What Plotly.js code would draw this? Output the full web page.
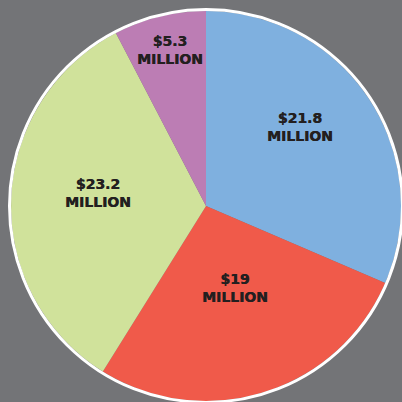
<!DOCTYPE html>
<html>
<head>
<meta charset="utf-8">
<script src="https://cdn.plot.ly/plotly-3.0.1.min.js"></script>
<style>
html,body{margin:0;padding:0;overflow:hidden;background:#737477;}
#chart{width:410px;height:410px;}
</style>
</head>
<body>
<div id="chart"></div>
<script>
var categories = ["A", "B", "C", "D"];
var values = [21.8, 19, 23.2, 5.3];
var labelText = ["$21.8", "$19", "$23.2", "$5.3"];
var colors = ["#7FB0DF", "#F05A4A", "#D0E29B", "#BC7DB4"];

// label placement style (angle offset from slice middle, radius as fraction)
var labelAngleOffset = [-6.6, -1.8, 4.9, 0.8];
var labelRadiusFrac = [0.63, 0.448, 0.558, 0.821];

var W = 410, cx = 206, cy = 206, R = 195, ringR = 196.5;

var trace = {
  type: "pie",
  labels: categories,
  values: values,
  textinfo: "none",
  sort: false,
  direction: "clockwise",
  rotation: 0,
  marker: {colors: colors, line: {width: 0}},
  domain: {x: [(cx - R) / W, (cx + R) / W], y: [1 - (cy + R) / W, 1 - (cy - R) / W]},
  showlegend: false,
  hoverinfo: "none"
};

var total = values.reduce(function(a, b){ return a + b; }, 0);
var annotations = [];
var cum = 0;
values.forEach(function(v, i){
  var mid = (cum + v / 2) / total * 360 + labelAngleOffset[i];
  cum += v;
  var a = mid * Math.PI / 180;
  var r = labelRadiusFrac[i] * R;
  var px = cx + r * Math.sin(a);
  var py = cy - r * Math.cos(a);
  annotations.push({
    xref: "paper", yref: "paper",
    x: px / W, y: 1 - py / W,
    xanchor: "center", yanchor: "middle",
    showarrow: false,
    text: "<b>" + labelText[i] + "<br>MILLION</b>",
    font: {family: "DejaVu Sans", size: 14, color: "#231F20", shadow: "0.4px 0 0 #231F20"}
  });
});

var layout = {
  width: W, height: W,
  margin: {l: 0, r: 0, t: 0, b: 0, pad: 0},
  paper_bgcolor: "#737477",
  plot_bgcolor: "#737477",
  showlegend: false,
  annotations: annotations,
  shapes: [{
    type: "circle", xref: "paper", yref: "paper",
    x0: (cx - ringR) / W, x1: (cx + ringR) / W,
    y0: 1 - (cy + ringR) / W, y1: 1 - (cy - ringR) / W,
    line: {color: "#FFFFFF", width: 3},
    fillcolor: "rgba(0,0,0,0)", layer: "above"
  }]
};

Plotly.newPlot("chart", [trace], layout, {displayModeBar: false, staticPlot: true});
</script>
</body>
</html>
